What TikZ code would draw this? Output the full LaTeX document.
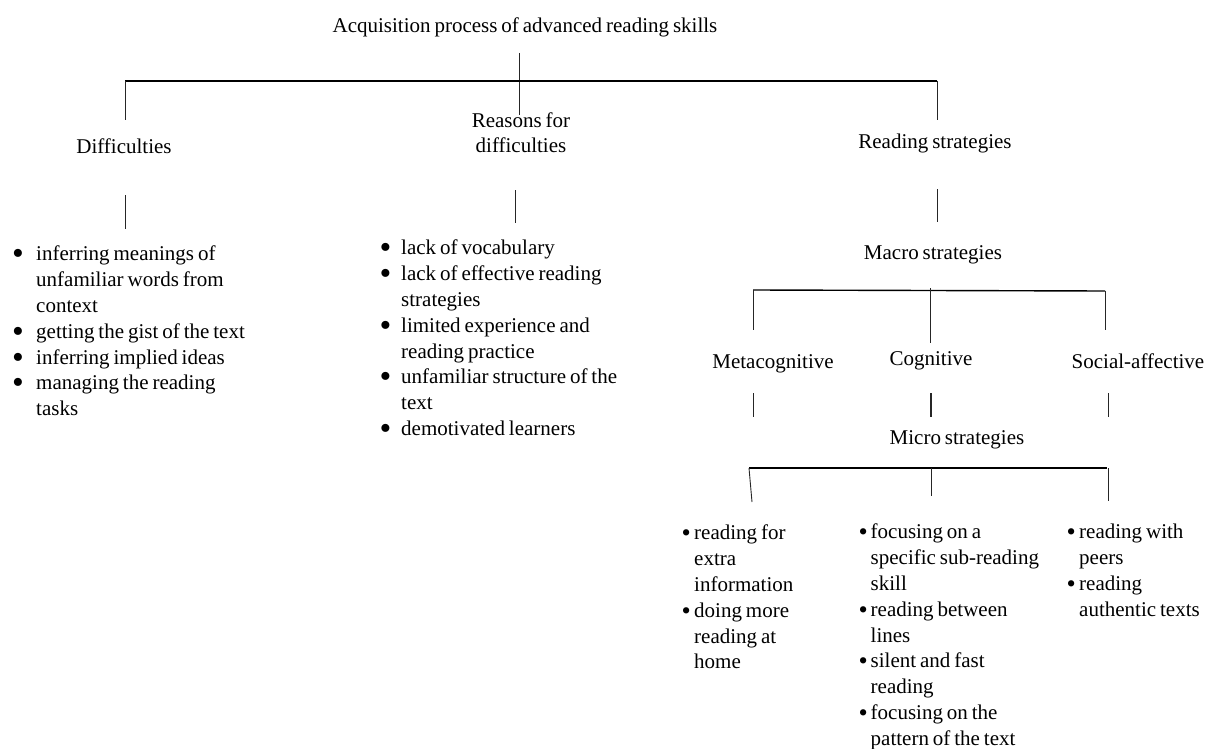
\documentclass[tikz,border=0pt]{standalone}
\usepackage{fontspec}
\setmainfont{Liberation Serif}[WordSpace=0.75]
\newcommand\bul[1]{\makebox[#1][l]{\smash{\raisebox{-4pt}{\scalebox{1.6}{\textbullet}}}}}
\newcommand\sbul[1]{\makebox[#1][l]{\smash{\raisebox{-1.7pt}{\scalebox{1.25}{\textbullet}}}}}
\newcommand\ind[1]{\hspace*{#1}}
\begin{document}
\begin{tikzpicture}[x=1pt,y=-1pt,
  lbl/.style={inner sep=0pt, font=\fontsize{21}{25}\selectfont, text height=14pt, text depth=1pt},
  itemlist/.style={inner sep=0pt, anchor=north west, align=left, font=\fontsize{21}{25.8}\selectfont},
  conn/.style={draw=black!85, line width=0.9pt},
  bar/.style={draw=black, line width=1.4pt}]
\useasboundingbox (0,0) rectangle (1205,749);

% labels
\node[lbl] (title) at (525,26) {Acquisition process of advanced reading skills};
\node[lbl] (diff) at (124,147) {Difficulties};
\node[lbl, align=center] (reas) at (521,146) {Reasons for\\difficulties};
\node[lbl] (rs) at (935,142) {Reading strategies};
\node[lbl] (macro) at (933,253) {Macro strategies};
\node[lbl] (meta) at (773,362) {Metacognitive};
\node[lbl] (cog) at (931,359) {Cognitive};
\node[lbl] (soc) at (1138,362) {Social-affective};
\node[lbl] (micro) at (957,438) {Micro strategies};

% lists
\node[itemlist] (dlist) at (12,246) {\bul{24pt}inferring meanings of\\
  \ind{24pt}unfamiliar words from\\
  \ind{24pt}context\\
  \bul{24pt}getting the gist of the text\\
  \bul{24pt}inferring implied ideas\\
  \bul{24pt}managing the reading\\
  \ind{24pt}tasks};
\node[itemlist] (rlist) at (379.5,240) {\bul{21.5pt}lack of vocabulary\\
  \bul{21.5pt}lack of effective reading\\
  \ind{21.5pt}strategies\\
  \bul{21.5pt}limited experience and\\
  \ind{21.5pt}reading practice\\
  \bul{21.5pt}unfamiliar structure of the\\
  \ind{21.5pt}text\\
  \bul{21.5pt}demotivated learners};
\node[itemlist] (mlist) at (681.5,525) {\sbul{12.5pt}reading for\\
  \ind{12.5pt}extra\\
  \ind{12.5pt}information\\
  \sbul{12.5pt}doing more\\
  \ind{12.5pt}reading at\\
  \ind{12.5pt}home};
\node[itemlist] (clist) at (858.5,524) {\sbul{12pt}focusing on a\\
  \ind{12pt}specific sub-reading\\
  \ind{12pt}skill\\
  \sbul{12pt}reading between\\
  \ind{12pt}lines\\
  \sbul{12pt}silent and fast\\
  \ind{12pt}reading\\
  \sbul{12pt}focusing on the\\
  \ind{12pt}pattern of the text};
\node[itemlist] (slist) at (1066.5,524) {\sbul{12.5pt}reading with\\
  \ind{12.5pt}peers\\
  \sbul{12.5pt}reading\\
  \ind{12.5pt}authentic texts};

% junction coordinates
\coordinate (t0) at (519,53);
\coordinate (t1) at (519,115);
\coordinate (hL) at (125,81);
\coordinate (hR) at (937,81);
\coordinate (dL) at (125,120);
\coordinate (dR) at (937,120);
\coordinate (a1) at (125,195); \coordinate (a2) at (125,229);
\coordinate (b1) at (515,190); \coordinate (b2) at (515,223);
\coordinate (c1) at (937,189); \coordinate (c2) at (937,222);
\coordinate (mL) at (753,290); \coordinate (mR) at (1105,291);
\coordinate (mM1) at (930,288); \coordinate (mM2) at (930,343);
\coordinate (mL2) at (753,330); \coordinate (mR2) at (1105,330);
\coordinate (e1) at (753,393); \coordinate (e2) at (753,417);
\coordinate (f1) at (931,393); \coordinate (f2) at (931,417);
\coordinate (g1) at (1108,393); \coordinate (g2) at (1108,417);
\coordinate (nL) at (749,468); \coordinate (nR) at (1107,468);
\coordinate (nL2) at (752,502); \coordinate (nM1) at (931,468); \coordinate (nM2) at (931,496);
\coordinate (nR1) at (1108,468); \coordinate (nR2) at (1108,501);

% connectors
\draw[conn] (t0) -- (t1);
\draw[bar, line width=1.2pt] (hL) -- (hR);
\draw[conn] (hL) -- (dL);
\draw[conn] (hR) -- (dR);
\draw[conn] (a1) -- (a2);
\draw[conn] (b1) -- (b2);
\draw[conn] (c1) -- (c2);
\draw[bar] (mL) -- (mR);
\draw[conn] (mM1) -- (mM2);
\draw[conn] (mL) -- (mL2);
\draw[conn] (mR) -- (mR2);
\draw[conn] (e1) -- (e2);
\draw[conn, line width=1.8pt] (f1) -- (f2);
\draw[conn] (g1) -- (g2);
\draw[bar] (nL) -- (nR);
\draw[conn] (nL) -- (nL2);
\draw[conn] (nM1) -- (nM2);
\draw[conn] (nR1) -- (nR2);
\end{tikzpicture}
\end{document}
